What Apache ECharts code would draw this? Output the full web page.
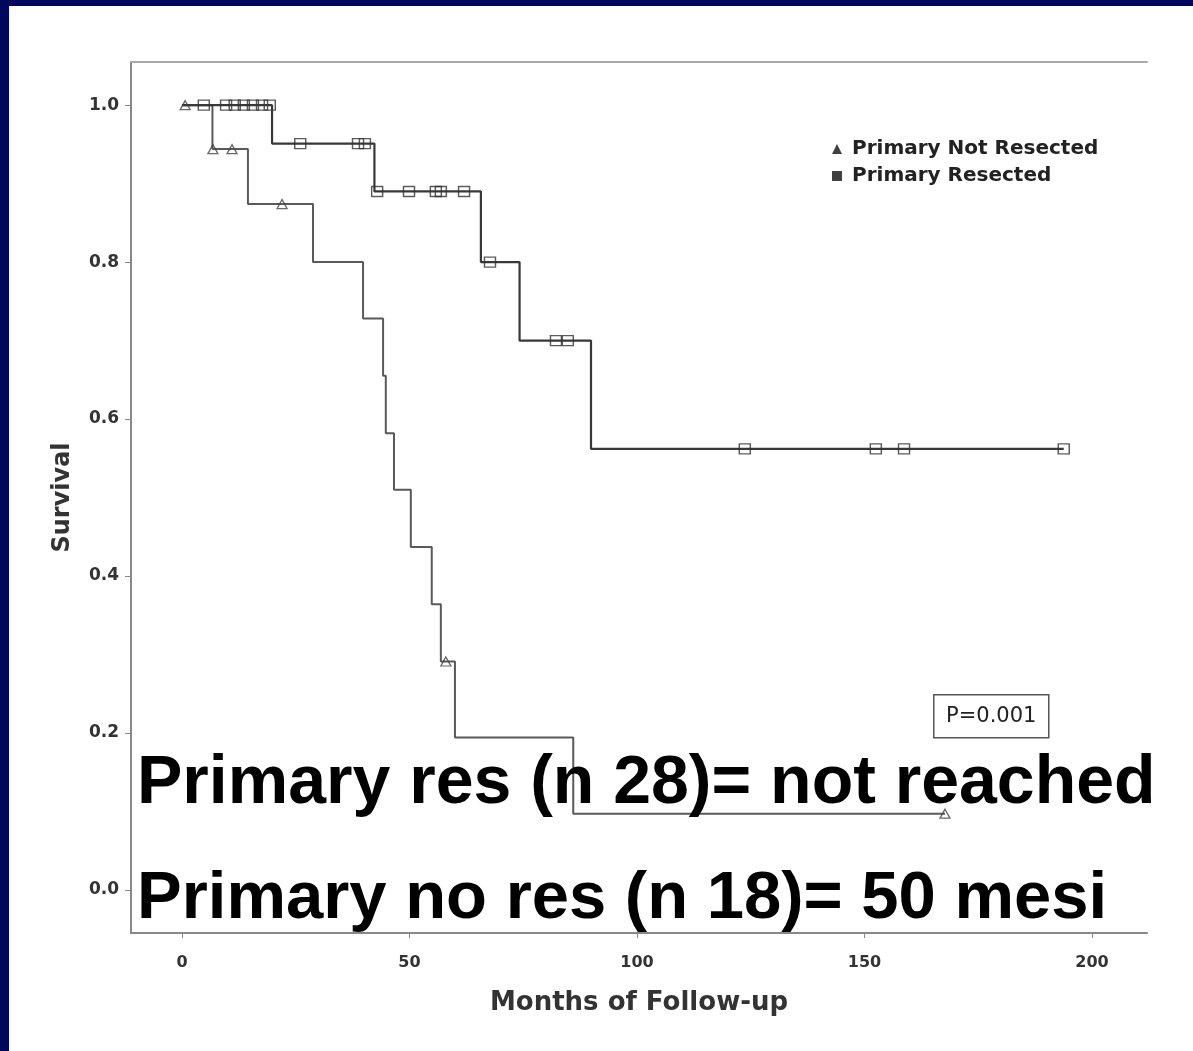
<!DOCTYPE html>
<html>
<head>
<meta charset="utf-8">
<script src="https://cdn.jsdelivr.net/npm/echarts@6/dist/echarts.min.js"></script>
<style>
  html, body { margin: 0; padding: 0; background: #00085c; width: 1193px; height: 1051px; overflow: hidden; }
  #chart { position: absolute; left: 9px; top: 6px; width: 1184px; height: 1045px; background: #fff; }
</style>
</head>
<body>
<div id="chart"></div>
<script>
// Kaplan-Meier steps, months of follow-up / survival
var notResTimes = [0, 6.7, 14.5, 28.8, 39.8, 44.2, 44.8, 46.6, 50.3, 54.9, 56.9, 60, 86, 167.7];
var notResSurv  = [1, 0.944, 0.874, 0.80, 0.728, 0.655, 0.582, 0.51, 0.437, 0.364, 0.291, 0.194, 0.097, 0.097];
var resTimes = [0, 19.8, 42.3, 65.7, 74.2, 89.9, 193.8];
var resSurv  = [1, 0.951, 0.890, 0.80, 0.70, 0.562, 0.562];

// censored observations
var notResCensT = [0.7, 6.8, 11, 22, 58, 167.7];
var notResCensS = [1, 0.944, 0.944, 0.874, 0.291, 0.097];
var resCensT = [4.8, 9.7, 11.6, 13.6, 15.6, 17.6, 19.3, 26, 38.7, 40.2, 42.9, 49.9, 55.8, 56.9, 62, 67.7, 82.2, 84.8, 123.7, 152.5, 158.7, 193.8];
var resCensS = [1, 1, 1, 1, 1, 1, 1, 0.951, 0.951, 0.951, 0.890, 0.890, 0.890, 0.890, 0.890, 0.80, 0.70, 0.70, 0.562, 0.562, 0.562, 0.562];

var xTicks = [0, 50, 100, 150, 200];
var yTicks = [0, 0.2, 0.4, 0.6, 0.8, 1.0];
var groupNames = ['Primary Not Resected', 'Primary Resected'];
var pText = 'P=0.001';
var noteLines = ['Primary res (n 28)= not reached', 'Primary no res (n 18)= 50 mesi'];

function zip(a, b) {
	return a.map(function(v, i) { return [v, b[i]]; });
}

var chart = echarts.init(document.getElementById('chart'));
var smallFont = 'DejaVu Sans';

var option = {
	animation: false,
	backgroundColor: '#fff',
	grid: { left: 122, top: 56, right: 46, bottom: 118, containLabel: false, outerBoundsMode: 'none' },
	legend: {
		orient: 'vertical',
		left: 818,
		top: 128,
		itemWidth: 10,
		itemHeight: 10,
		itemGap: 7,
		textStyle: { fontFamily: smallFont, fontWeight: 'bold', fontSize: 20, color: '#222', padding: [0, 0, 0, 5] },
		data: [
			{ name: groupNames[0], icon: 'triangle', itemStyle: { color: '#111', borderWidth: 0 } },
			{ name: groupNames[1], icon: 'rect', itemStyle: { color: '#111', borderWidth: 0 } }
		]
	},
	xAxis: [{
		type: 'value',
		min: -11.2,
		max: 212.1,
		name: 'Months of Follow-up',
		nameLocation: 'middle',
		nameGap: 57,
		nameTextStyle: { fontFamily: smallFont, fontWeight: 'bold', fontSize: 26, color: '#333' },
		axisLine: { show: true, onZero: false, lineStyle: { color: '#888', width: 2 } },
		axisTick: { show: true, length: 5, customValues: xTicks, lineStyle: { color: '#888' } },
		axisLabel: { customValues: xTicks, margin: 22, fontFamily: smallFont, fontWeight: 'bold', fontSize: 16, color: '#333' },
		splitLine: { show: false }
	}, {
		type: 'value',
		position: 'top',
		min: -11.2,
		max: 212.1,
		axisLine: { show: true, onZero: false, lineStyle: { color: '#aaa', width: 2 } },
		axisTick: { show: false },
		axisLabel: { show: false },
		splitLine: { show: false }
	}],
	yAxis: {
		type: 'value',
		min: -0.055,
		max: 1.055,
		name: 'Survival',
		nameLocation: 'middle',
		nameGap: 56,
		nameTextStyle: { fontFamily: smallFont, fontWeight: 'bold', fontSize: 24, color: '#333' },
		axisLine: { show: true, onZero: false, lineStyle: { color: '#888', width: 2 } },
		axisTick: { show: true, length: 6, customValues: yTicks, lineStyle: { color: '#888' } },
		axisLabel: {
			customValues: yTicks, margin: 12, fontFamily: smallFont, fontWeight: 'bold', fontSize: 17, color: '#333',
			formatter: function(v) { return v.toFixed(1); }
		},
		splitLine: { show: false }
	},
	series: [{
		name: 'notResLine',
		type: 'line',
		step: 'end',
		showSymbol: false,
		lineStyle: { color: '#5a5a5a', width: 2 },
		data: zip(notResTimes, notResSurv),
		z: 2
	}, {
		name: 'resLine',
		type: 'line',
		step: 'end',
		showSymbol: false,
		lineStyle: { color: '#383838', width: 2.2 },
		data: zip(resTimes, resSurv),
		z: 2
	}, {
		name: groupNames[0],
		type: 'scatter',
		symbol: 'triangle',
		symbolSize: [10, 9],
		itemStyle: { color: 'rgba(255,255,255,0)', borderColor: '#444', borderWidth: 1.3 },
		data: zip(notResCensT, notResCensS),
		z: 3
	}, {
		name: groupNames[1],
		type: 'scatter',
		symbol: 'rect',
		symbolSize: [11, 10],
		itemStyle: { color: 'rgba(255,255,255,0)', borderColor: '#333', borderWidth: 1.4 },
		data: zip(resCensT, resCensS),
		z: 3
	}],
	graphic: [{
		type: 'group',
		left: 924,
		top: 688,
		children: [{
			type: 'rect',
			shape: { x: 0, y: 0, width: 115, height: 43 },
			style: { fill: '#fff', stroke: '#555', lineWidth: 1.5 }
		}, {
			type: 'text',
			x: 57.5,
			y: 22,
			style: { text: pText, fontFamily: smallFont, fontSize: 21, fill: '#222', align: 'center', verticalAlign: 'middle' }
		}]
	}, {
		type: 'text',
		x: 128,
		y: 778,
		z: 10,
		style: { text: noteLines[0], fontFamily: 'Liberation Sans', fontWeight: 'bold', fontSize: 68, fill: '#000', verticalAlign: 'middle' }
	}, {
		type: 'text',
		x: 128,
		y: 894,
		z: 10,
		style: { text: noteLines[1], fontFamily: 'Liberation Sans', fontWeight: 'bold', fontSize: 67, fill: '#000', verticalAlign: 'middle' }
	}]
};

if (option && typeof option === 'object') {
	chart.setOption(option, true);
}
</script>
</body>
</html>
